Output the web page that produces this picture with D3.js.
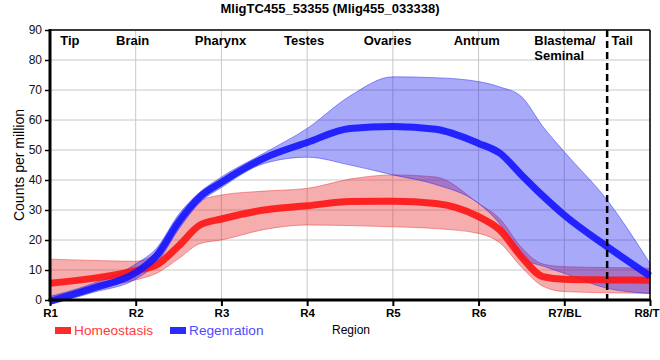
<!DOCTYPE html>
<html>
<head>
<meta charset="utf-8">
<script src="https://cdn.jsdelivr.net/npm/d3@7"></script>
<style>
  html, body { margin: 0; padding: 0; background: #fff; }
  svg { display: block; font-family: "Liberation Sans", Arial, sans-serif; }
</style>
</head>
<body>
<svg id="chart" width="660" height="360"></svg>
<script>
// ---- data ----
const title = "MligTC455_53355 (Mlig455_033338)";
const tickLabels = ["R1", "R2", "R3", "R4", "R5", "R6", "R7/BL", "R8/TL"];
const regionNames = [
  { name: ["Tip"], pos: 1.12 },
  { name: ["Brain"], pos: 1.77 },
  { name: ["Pharynx"], pos: 2.69 },
  { name: ["Testes"], pos: 3.73 },
  { name: ["Ovaries"], pos: 4.66 },
  { name: ["Antrum"], pos: 5.71 },
  { name: ["Blastema/", "Seminal"], pos: 6.65 },
  { name: ["Tail"], pos: 7.55 }
];
const tailBoundary = 7.5;
const yTicks = [0, 10, 20, 30, 40, 50, 60, 70, 80, 90];

// sample positions along the region axis (1 = R1 ... 8 = R8)
const positions = [1, 1.5, 2, 2.25, 2.5, 2.75, 3, 3.5, 4, 4.5, 5, 5.5, 6, 6.25, 6.5, 6.75, 7, 7.5, 8];

const homeoMean  = [5.6, 7.2, 9.8, 11.8, 18, 25, 27, 30, 31.4, 32.8, 32.9, 32.2, 27.8, 23.3, 14.4, 7.8, 6.9, 6.7, 6.6];
const homeoUpper = [13.6, 13.2, 12.9, 16, 26, 33, 35, 36.3, 37.2, 40.3, 41.7, 41, 32.2, 27, 17.5, 12, 11.1, 10.8, 10.6];
const homeoLower = [1.1, 4, 6.7, 9, 13.8, 18.8, 20, 23.5, 25, 24.8, 24.4, 23.8, 22.2, 19, 11, 4.6, 2.8, 2.4, 2.2];

const regenMean  = [-0.4, 3.9, 9.1, 15, 26, 34.4, 39.2, 47.3, 52.5, 57.2, 57.8, 56.9, 52.2, 48.9, 41.7, 34.7, 28.3, 17.8, 8];
const regenUpper = [1.2, 5.5, 12, 17.5, 28.5, 36, 41, 49, 57.2, 68, 74.4, 74.1, 72.8, 71, 67.8, 57.8, 49.4, 33.3, 12.2];
const regenLower = [-1.5, 2.5, 7, 12.5, 23.5, 32.5, 37.5, 45.5, 47.6, 45, 41.7, 38.5, 32.2, 25.3, 14, 11.3, 8.9, 3.9, 2.2];

const seriesNames = ["Homeostasis", "Regenration"];

// ---- layout ----
const svg = d3.select("#chart");
const x = d3.scaleLinear().domain([1, 8]).range([50, 650]);
const y = d3.scaleLinear().domain([0, 90]).range([300, 30]);

const series = [
  { name: seriesNames[0], mean: homeoMean, lo: homeoLower, hi: homeoUpper,
    line: "#ff1414", band: "rgb(230,40,40)", text: "#ff3a3a" },
  { name: seriesNames[1], mean: regenMean, lo: regenLower, hi: regenUpper,
    line: "#1414ff", band: "rgb(30,30,240)", text: "#4d4dff" }
];

// grid
const grid = svg.append("g");
grid.selectAll("line.v").data(d3.range(1, 9)).join("line")
  .attr("x1", d => x(d)).attr("x2", d => x(d))
  .attr("y1", y(90)).attr("y2", y(0))
  .attr("stroke", "#c8c8c8").attr("stroke-width", 1);
grid.selectAll("line.h").data(yTicks).join("line")
  .attr("x1", x(1)).attr("x2", x(8))
  .attr("y1", d => y(d)).attr("y2", d => y(d))
  .attr("stroke", "#c8c8c8").attr("stroke-width", 1);

// bands
const curve = d3.curveMonotoneX;
series.forEach(s => {
  const area = d3.area()
    .x((d, i) => x(positions[i]))
    .y0((d, i) => y(s.lo[i]))
    .y1((d, i) => y(s.hi[i]))
    .curve(curve);
  svg.append("path").datum(positions)
    .attr("d", area)
    .attr("fill", s.band).attr("fill-opacity", 0.38)
    .attr("stroke", s.band).attr("stroke-opacity", 0.45).attr("stroke-width", 1);
});

// mean lines
series.forEach(s => {
  const line = d3.line()
    .x((d, i) => x(positions[i]))
    .y((d, i) => y(s.mean[i]))
    .curve(curve);
  svg.append("path").datum(positions)
    .attr("d", line)
    .attr("fill", "none")
    .attr("stroke", s.line).attr("stroke-opacity", 0.9)
    .attr("stroke-width", 7).attr("stroke-linecap", "butt");
});

// tail boundary
svg.append("line")
  .attr("x1", x(tailBoundary)).attr("x2", x(tailBoundary))
  .attr("y1", y(90)).attr("y2", y(0))
  .attr("stroke", "#000").attr("stroke-width", 2.5)
  .attr("stroke-dasharray", "7,4");

// frame top/right
svg.append("line").attr("x1", x(1)).attr("x2", x(8)).attr("y1", y(90)).attr("y2", y(90))
  .attr("stroke", "#000").attr("stroke-width", 1.5);
svg.append("line").attr("x1", x(8)).attr("x2", x(8)).attr("y1", y(90)).attr("y2", y(0))
  .attr("stroke", "#000").attr("stroke-width", 1.5);

// axes
const yAxis = d3.axisLeft(y).tickValues(yTicks).tickSize(5).tickPadding(3);
const gy = svg.append("g").attr("transform", `translate(${x(1)},0)`).call(yAxis);
gy.select(".domain").attr("stroke-width", 3).attr("d", `M0,${y(90) - 1}V${y(0) + 1.5}`);
gy.selectAll(".tick line").attr("stroke-width", 1.5);
gy.selectAll(".tick text").attr("font-size", 12).attr("fill", "#111")
  .attr("font-family", "'Liberation Sans', Arial, sans-serif");

const xAxis = d3.axisBottom(x).tickValues(d3.range(1, 9))
  .tickFormat((d, i) => tickLabels[i]).tickSize(6).tickPadding(3);
const gx = svg.append("g").attr("transform", `translate(0,${y(0)})`).call(xAxis);
gx.select(".domain").attr("stroke-width", 3).attr("d", `M${x(1) - 1.5},0H${x(8) + 1}`);
gx.selectAll(".tick line").attr("stroke-width", 2);
gx.selectAll(".tick text").attr("font-size", 11.5).attr("font-weight", "bold").attr("fill", "#000")
  .attr("font-family", "'Liberation Sans', Arial, sans-serif");

// region names (each line its own text element)
const rg = svg.append("g");
regionNames.forEach(r => {
  r.name.forEach((n, k) => {
    rg.append("text")
      .attr("x", x(r.pos)).attr("y", 45 + k * 14.5)
      .attr("font-size", 13).attr("font-weight", "bold").attr("fill", "#000")
      .text(n);
  });
});

// title
svg.append("text").attr("x", 330).attr("y", 13)
  .attr("text-anchor", "middle").attr("font-size", 13).attr("font-weight", "bold")
  .attr("fill", "#000").text(title);

// y label
svg.append("text")
  .attr("transform", `translate(24,${(y(90) + y(0)) / 2}) rotate(-90)`)
  .attr("text-anchor", "middle").attr("font-size", 14).attr("fill", "#000")
  .text("Counts per million");

// x label
svg.append("text").attr("x", 332).attr("y", 334)
  .attr("font-size", 12).attr("fill", "#000").text("Region");

// legend
const legendX = [55, 170];
series.forEach((s, i) => {
  svg.append("rect").attr("x", legendX[i]).attr("y", 327)
    .attr("width", 16).attr("height", 7).attr("fill", s.line).attr("fill-opacity", 0.9);
  svg.append("text").attr("x", legendX[i] + 19).attr("y", 335)
    .attr("font-size", 13.7).attr("fill", s.text).text(s.name);
});
</script>
</body>
</html>
